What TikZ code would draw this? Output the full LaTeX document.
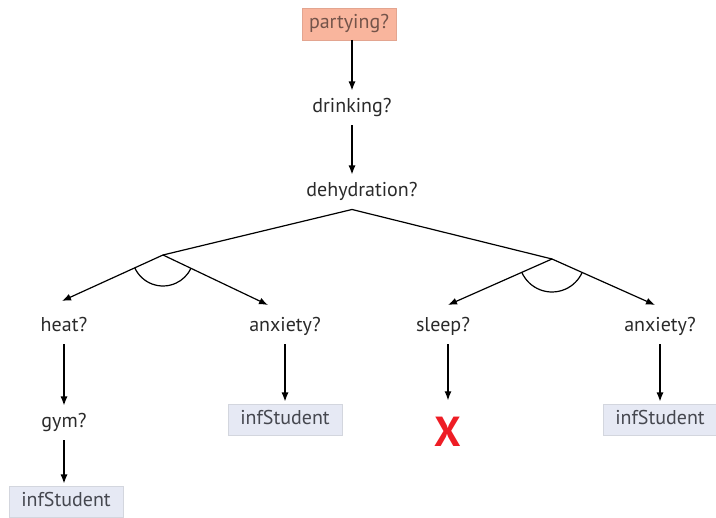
\documentclass[tikz,border=0pt]{standalone}
\usepackage{fontspec}
\setmainfont{PT Sans}
\usetikzlibrary{arrows.meta}
\usetikzlibrary{positioning}
\usetikzlibrary{angles}

\definecolor{startfill}{HTML}{F9B59D}
\definecolor{startline}{HTML}{E3A590}
\definecolor{starttext}{HTML}{74544A}
\definecolor{outfill}{HTML}{E6E9F4}
\definecolor{outline}{HTML}{D3D6DE}
\definecolor{outtext}{HTML}{45474F}
\definecolor{asktext}{HTML}{2A2A2A}
\definecolor{failred}{HTML}{EE1D25}

\begin{document}
\begin{tikzpicture}[
      x = 1pt, y = 1pt,
      >={Latex[length=9pt,width=7pt]},
      line width = 1.2pt,
      question/.style = {
        text = asktext, font = \fontsize{20}{24}\selectfont,
        inner sep = 0pt, text height = 14pt, text depth = 5pt,
        outer sep = 8pt
      },
      outcome/.style = {
        draw = outline, fill = outfill, line width = 0.8pt,
        text = outtext, font = \fontsize{20}{24}\selectfont,
        text height = 14pt, text depth = 5pt,
        minimum width = 114pt, minimum height = 31pt,
        inner sep = 0pt, outer sep = 3pt
      },
      start/.style = {
        outcome, draw = startline, fill = startfill, text = starttext,
        minimum width = 94pt, minimum height = 32pt, outer sep = 0pt
      },
      fail/.style = {
        text = failred, font = \fontsize{42}{42}\selectfont\bfseries,
        inner sep = 0pt, outer sep = 17pt
      },
    ]

    \useasboundingbox (0,0) rectangle (716,518);

    \node[start]    (party) at (349,494) {partying?};
    \node[question] (drink) at (352,410) {drinking?};
    \node[question] (dehyd) at (362,326) {dehydration?};

    \coordinate (J1) at (163,263);
    \coordinate (J2) at (552,259);

    \node[question] (heat)  at ( 64,191) {heat?};
    \node[question] (anxL)  at (285,191) {anxiety?};
    \node[question] (sleep) at (443,191) {sleep?};
    \node[question] (anxR)  at (660,191) {anxiety?};

    \node[question] (gym)   at ( 64, 95) {gym?};
    \node[outcome]  (infL)  at (285, 98) {infStudent};
    \node[fail]     (fail)  at (448, 86) {X};
    \node[outcome]  (infR)  at (660, 98) {infStudent};
    \node[outcome]  (infB)  at ( 66, 16) {infStudent};

    % ends of the slanted arrows
    \coordinate (heatIn)  at ( 62,217);
    \coordinate (anxLIn)  at (268,213);
    \coordinate (sleepIn) at (448,213);
    \coordinate (anxRIn)  at (655,213);

    \draw[->] (party.south -| drink) -- (drink);
    \draw[->] (drink) -- (drink |- dehyd.north);
    \draw (J1) -- (dehyd.south -| drink) -- (J2);

    \draw[->] (J1) -- (heatIn);
    \draw[->] (J1) -- (anxLIn);
    \draw[->] (J2) -- (sleepIn);
    \draw[->] (J2) -- (anxRIn);

    \pic[draw, angle radius = 31pt] {angle = heatIn--J1--anxLIn};
    \pic[draw, angle radius = 33pt] {angle = sleepIn--J2--anxRIn};

    \draw[->] (heat)  -- (gym);
    \draw[->] (gym)   -- (gym |- infB.north);
    \draw[->] (anxL)  -- (infL);
    \draw[->] (sleep.south -| fail) -- (fail);
    \draw[->] (anxR)  -- (infR);
  \end{tikzpicture}
\end{document}
